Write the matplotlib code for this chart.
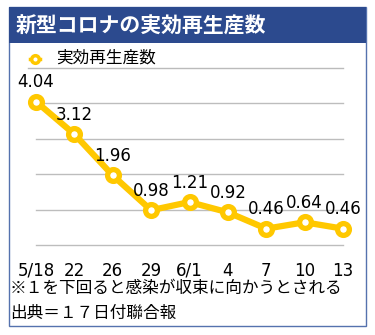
import matplotlib
matplotlib.use("Agg")
import matplotlib.pyplot as plt
from matplotlib.lines import Line2D
from matplotlib.patches import Rectangle

plt.rcParams['font.family'] = ['Noto Sans CJK JP', 'DejaVu Sans']

# ---- data ----
dates = ["5/18", "22", "26", "29", "6/1", "4", "7", "10", "13"]
values = [4.04, 3.12, 1.96, 0.98, 1.21, 0.92, 0.46, 0.64, 0.46]
title = "新型コロナの実効再生産数"
series_name = "実効再生産数"
note1 = "※１を下回ると感染が収束に向かうとされる"
note2 = "出典＝１７日付聯合報"
grid_levels = [0, 1, 2, 3, 4]

W, H = 375, 335
GOLD = "#FFC800"
BLUE = "#2C4A8E"
FRAME = "#5572AE"

def fx(x):
    return x / W

def fy(y):
    return 1 - y / H

fig = plt.figure(figsize=(W / 100, H / 100), dpi=100)
fig.patch.set_facecolor("white")

# outer frame
fig.add_artist(Rectangle((fx(9), fy(326)), fx(366) - fx(9), fy(7) - fy(326),
                         transform=fig.transFigure, facecolor="white",
                         edgecolor=FRAME, linewidth=1.0, zorder=0))
# title bar
fig.add_artist(Rectangle((fx(9), fy(43)), fx(366) - fx(9), fy(7) - fy(43),
                         transform=fig.transFigure, facecolor=BLUE,
                         edgecolor="none", zorder=1))
fig.text(fx(16), fy(26), title, color="white", fontsize=15, fontweight="bold",
         ha="left", va="center", zorder=2)

# legend
fig.add_artist(Line2D([fx(30), fx(40)], [fy(59), fy(59)], transform=fig.transFigure,
                      color=GOLD, linewidth=2.5, zorder=3))
fig.add_artist(Line2D([fx(35)], [fy(59)], transform=fig.transFigure, marker="o",
                      markersize=5.5, markerfacecolor="white", markeredgecolor=GOLD,
                      markeredgewidth=2.5, linestyle="none", zorder=4))
fig.text(fx(56), fy(58), series_name, fontsize=12, ha="left", va="center", color="black")
fig.add_artist(Line2D([fx(28), fx(343)], [fy(68), fy(68)], transform=fig.transFigure,
                      color="#bbbbbb", linewidth=1.0))

# chart axes
left_px, right_px = 36, 343
zero_px, unit_px = 245, 35.5
ymax = 4.5
ax = fig.add_axes([fx(left_px), fy(zero_px), (right_px - left_px) / W, ymax * unit_px / H])
ax.set_facecolor("none")
x = list(range(len(values)))
ax.set_xlim(0, len(values) - 1)
ax.set_ylim(0, ymax)
for g in grid_levels:
    ax.axhline(g, color="#bdbdbd", linewidth=1.0, zorder=1, clip_on=False)
ax.plot(x, values, color=GOLD, linewidth=4.5, marker="o", markersize=8.5,
        markerfacecolor="white", markeredgecolor=GOLD, markeredgewidth=3.8,
        zorder=3, clip_on=False, solid_capstyle="round")
for xi, v in zip(x, values):
    ax.annotate(f"{v:.2f}", (xi, v), xytext=(0, 14), textcoords="offset points",
                ha="center", va="center", fontsize=12, color="black",
                family=["DejaVu Sans"], zorder=4)
for s in ax.spines.values():
    s.set_visible(False)
ax.set_yticks([])
ax.set_xticks(x)
ax.set_xticklabels(dates, fontsize=12, family=["DejaVu Sans"])
ax.tick_params(axis="x", length=0, pad=12)

fig.text(fx(10), fy(289), note1, fontsize=12, ha="left", va="center", color="black")
fig.text(fx(10), fy(313), note2, fontsize=12, ha="left", va="center", color="black")

fig.savefig("out.png", dpi=100, facecolor="white")
